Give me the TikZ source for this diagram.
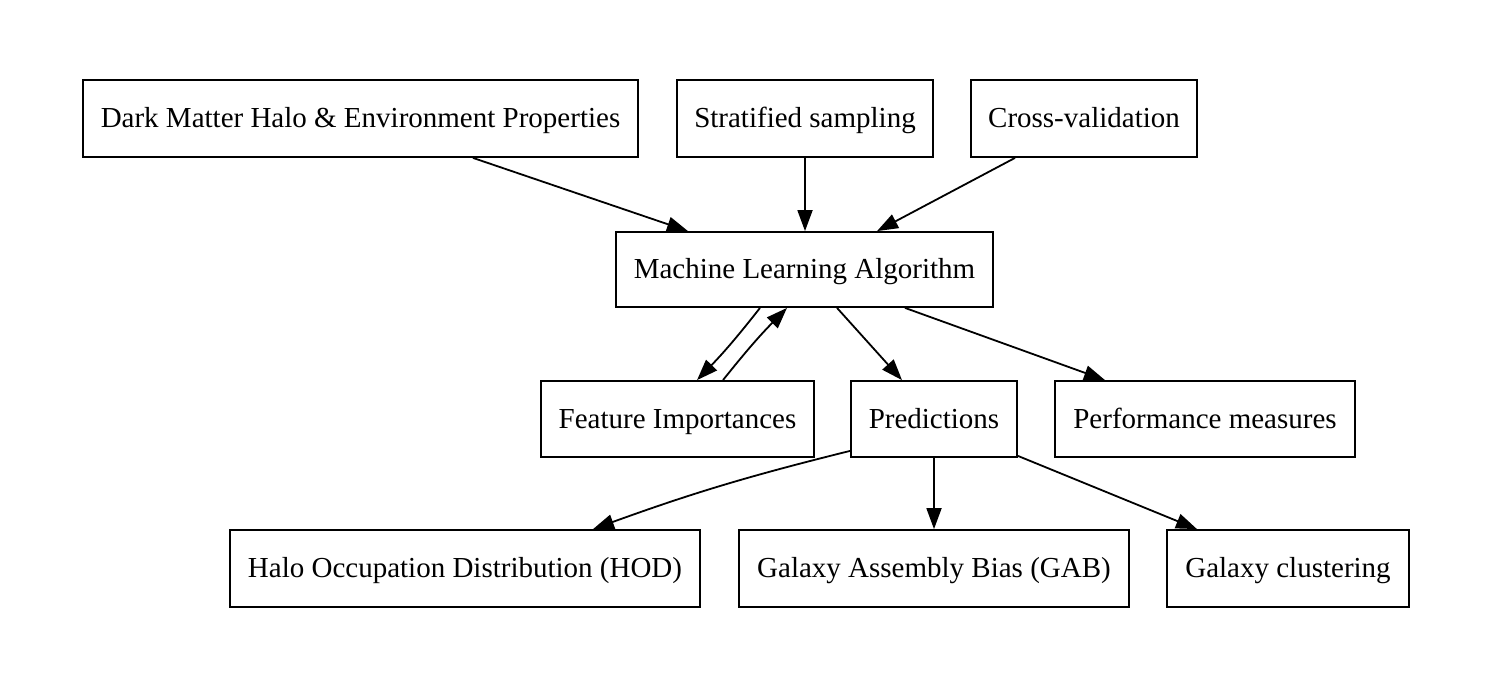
\documentclass[tikz,border=0pt]{standalone}
\usepackage{fontspec}
\setmainfont{Liberation Serif}
\usetikzlibrary{arrows.meta}
\tikzset{
  box/.style={draw, line width=1.8pt, minimum height=77pt, inner sep=0pt, text height=22pt, text depth=4pt, font=\fontsize{29}{34}\selectfont},
  arr/.style={line width=1.8pt, -{Triangle[length=21pt,width=15pt]}}
}
\begin{document}
\begin{tikzpicture}[x=1pt,y=-1pt]
\useasboundingbox (0,0) rectangle (1493,691);
\node[box, minimum width=555pt] (dm) at (360.5,118.5) {Dark Matter Halo \& Environment Properties};
\node[box, minimum width=256pt] (strat) at (805,118.5) {Stratified sampling};
\node[box, minimum width=226pt] (cross) at (1084,118.5) {Cross-validation};
\node[box, minimum width=377pt, minimum height=75pt] (ml) at (804.5,269.5) {Machine Learning Algorithm};
\node[box, minimum width=273pt, minimum height=76pt] (fi) at (677.5,419) {Feature Importances};
\node[box, minimum width=166pt, minimum height=76pt] (pred) at (934,419) {Predictions};
\node[box, minimum width=300pt, minimum height=76pt] (perf) at (1205,419) {Performance measures};
\node[box, minimum width=470pt] (hod) at (465,568.5) {Halo Occupation Distribution (HOD)};
\node[box, minimum width=390pt] (gab) at (934,568.5) {Galaxy Assembly Bias (GAB)};
\node[box, minimum width=242pt] (gc) at (1288,568.5) {Galaxy clustering};

\draw[arr] ([xshift=112.5pt]dm.south) -- ([xshift=-116.5pt]ml.north);
\draw[arr] (strat.south) -- (strat.south |- ml.north);
\draw[arr] ([xshift=-69pt]cross.south) -- ([xshift=72.5pt]ml.north);
\draw[arr] ([xshift=-44.5pt]ml.south) to[bend left=3] ([xshift=19.5pt]fi.north);
\draw[arr] ([xshift=45.5pt]fi.north) to[bend left=3] ([xshift=-17.5pt]ml.south);
\draw[arr] ([xshift=32.5pt]ml.south) -- ([xshift=-32pt]pred.north);
\draw[arr] ([xshift=100.5pt]ml.south) -- ([xshift=-100pt]perf.north);
\draw[arr] ([yshift=7pt]pred.south west) to[bend right=3] ([xshift=128pt]hod.north);
\draw[arr] (pred.south) -- (gab.north);
\draw[arr] ([yshift=2pt]pred.south east) -- ([xshift=-91pt]gc.north);
\end{tikzpicture}
\end{document}
